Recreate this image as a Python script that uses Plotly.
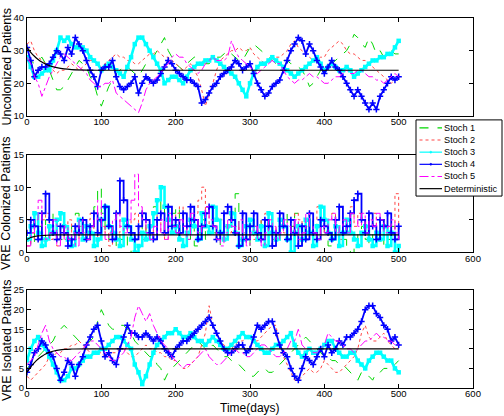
import plotly.graph_objects as go

# ---------------- data ----------------
DAYS = list(range(0, 501, 5))

UNCOL_S1 = [28,27,26,27,28,26,24,21,18,18,
            19,21,23,25,27,26,25,22,20,16,
            13,16,19,21,23,24,25,25,24,23,
            22,24,26,27,28,30,32,34,30,28,
            26,25,24,26,27,28,28,27,26,26,
            27,28,28,29,30,29,28,27,27,29,
            31,32,31,30,29,28,27,26,26,27,
            27,26,26,25,24,22,19,20,22,24,
            25,25,26,27,28,29,30,32,35,34,
            32,31,34,32,29,30,28,29,30,29,
            29]
UNCOL_S2 = [32,33,30,28,27,26,25,24,23,24,
            24,25,26,25,24,25,26,27,27,26,
            25,26,27,28,29,28,28,27,27,26,
            26,27,28,29,29,30,29,28,28,27,
            26,25,24,25,26,24,22,18,13,17,
            20,24,27,28,29,30,30,31,30,30,
            31,29,28,27,26,27,27,28,28,29,
            30,32,33,31,30,29,28,27,27,28,
            28,30,31,32,33,32,30,29,29,28,
            27,27,26,25,24,23,22,21,20,21,
            22]
UNCOL_S3 = [28,25,22,22,23,24,24,27,30,34,
            33,34,32,31,31,31,30,28,27,26,
            24,25,26,25,24,23,22,25,28,32,
            34,34,32,30,28,26,24,20,21,22,
            22,21,20,22,24,25,26,26,27,27,
            28,27,26,25,24,23,22,20,18,16,
            20,23,25,26,26,27,28,27,26,25,
            24,23,22,23,24,25,26,27,28,26,
            24,25,26,25,24,24,25,24,22,23,
            24,25,26,27,27,28,28,29,29,31,
            33]
UNCOL_S4 = [31,27,22,24,25,25,26,28,30,29,
            27,31,29,34,32,30,27,24,22,19,
            24,25,25,27,22,19,18,19,20,22,
            17,20,22,21,20,21,23,25,27,26,
            24,23,22,21,21,20,19,14,15,17,
            19,20,22,23,24,25,27,26,24,25,
            26,23,20,18,16,17,19,20,21,24,
            27,30,32,34,33,29,32,30,27,25,
            23,25,27,25,24,22,20,18,16,18,
            16,14,12,14,12,16,18,20,22,21,
            22]
UNCOL_S5 = [28,26,22,20,16,19,22,24,26,28,
            29,28,27,26,25,24,23,21,20,19,
            19,20,20,21,17,16,15,14,13,12,
            11,14,18,20,21,22,23,25,26,28,
            29,28,28,26,25,24,23,24,26,27,
            28,27,27,27,28,33,30,28,27,26,
            25,24,23,24,25,26,27,26,26,24,
            22,21,20,21,21,22,23,22,22,21,
            20,20,21,22,22,23,24,23,23,24,
            24,23,22,22,21,21,20,21,22,23,
            22]

COL_S1 = [2,1,3,4,2,5,3,6,4,2,
          3,1,4,6,5,3,2,4,7,10,
          6,3,2,1,3,2,4,1,0,2,
          3,5,2,4,7,6,8,5,3,6,
          7,5,3,2,4,1,3,5,2,4,
          3,5,1,2,4,6,9,3,2,1,
          3,4,2,5,3,1,2,4,3,6,
          2,4,6,3,1,2,3,5,2,4,
          3,1,2,4,3,2,1,0,2,3,
          4,2,1,3,2,1,3,2,4,1,
          2]
COL_S2 = [1,3,2,4,5,6,2,3,1,4,
          2,5,3,2,4,3,5,6,3,2,
          4,3,1,2,3,5,4,3,5,6,
          3,2,4,3,6,5,3,2,4,5,
          6,7,4,3,5,6,8,10,6,4,
          3,2,5,4,3,6,4,2,3,5,
          4,2,3,5,6,3,2,4,5,3,
          2,4,6,5,3,4,2,5,7,4,
          3,5,6,4,2,3,5,7,4,6,
          5,3,4,6,3,2,5,4,3,9,
          4]
COL_S3 = [2,4,6,3,1,2,4,3,5,6,
          4,2,1,3,5,2,4,3,1,2,
          5,7,4,3,2,1,5,4,2,0,
          1,3,2,4,6,8,10,7,5,3,
          4,2,1,3,5,4,2,6,4,3,
          7,5,3,2,4,6,3,1,2,4,
          5,3,2,4,1,6,3,2,5,4,
          2,0,3,4,2,5,3,1,4,7,
          5,3,2,4,1,3,5,3,2,1,
          3,4,2,1,3,2,4,1,3,0,
          1]
COL_S4 = [3,5,4,2,6,9,5,3,2,4,
          3,1,2,4,3,5,2,4,6,3,
          5,7,4,2,6,11,8,4,3,2,
          4,6,5,3,2,5,6,3,7,4,
          5,3,6,4,7,5,2,4,6,7,
          4,2,3,6,7,5,3,1,6,2,
          4,6,3,2,5,4,1,3,6,4,
          2,5,3,1,4,2,6,3,2,5,
          4,3,2,5,7,3,4,6,8,9,
          5,3,6,4,2,5,4,6,3,2,
          4]
COL_S5 = [1,3,5,8,4,2,3,5,1,2,
          4,2,3,1,5,3,2,4,5,8,
          4,2,3,5,6,4,3,5,8,12,
          7,5,3,2,4,3,5,2,6,4,
          3,5,4,2,6,5,3,4,7,5,
          4,2,1,3,5,4,3,5,2,1,
          3,4,2,1,3,5,4,2,3,5,
          4,3,5,2,3,6,4,3,2,4,
          3,5,6,3,4,5,3,6,5,4,
          6,3,5,4,6,5,3,4,5,3,
          2]

ISO_S1 = [5,6,8,8,9,10,11,12,14,15,
          16,15,14,13,12,11,11,12,13,17,
          20,18,16,15,15,16,16,15,14,12,
          11,10,9,8,8,6,5,2,4,5,
          6,7,8,9,10,11,12,11,10,10,
          11,10,9,8,8,7,7,6,5,4,
          3,3,4,5,5,4,4,5,6,7,
          8,9,10,11,12,13,12,11,10,9,
          8,8,7,7,6,6,5,4,3,2,
          4,3,3,2,4,4,5,5,6,6,
          7]
ISO_S2 = [3,2,3,4,5,6,8,8,9,9,
          10,10,11,11,12,11,10,9,9,9,
          9,8,8,9,9,10,10,9,8,8,
          9,10,11,10,10,9,9,8,8,7,
          7,6,5,5,6,7,8,11,14,21,
          16,14,12,11,10,10,11,12,12,13,
          13,12,12,13,14,15,16,16,10,8,
          6,4,2,2,3,4,5,4,4,5,
          7,6,5,4,4,5,6,7,8,10,
          14,16,13,12,12,13,14,12,11,10,
          10]
ISO_S3 = [7,10,12,13,11,10,8,6,4,2,
          2,3,5,5,6,7,8,8,9,9,
          10,10,11,12,13,13,12,11,10,6,
          4,1,3,6,9,11,12,13,14,14,
          15,14,13,13,14,13,12,12,11,12,
          13,12,11,10,10,11,12,13,14,13,
          13,12,11,10,9,9,10,11,11,12,
          13,14,11,9,8,9,10,9,9,10,
          11,12,12,10,9,8,8,9,9,7,
          6,5,7,8,9,9,8,7,7,5,
          4]
ISO_S4 = [4,6,9,10,12,11,9,8,5,2,
          4,7,6,3,6,8,11,13,15,16,
          12,8,9,7,6,10,13,16,14,14,
          13,13,14,13,12,13,12,10,9,8,
          10,11,12,12,13,14,15,16,17,18,
          16,14,12,10,9,9,10,11,11,9,
          10,13,16,15,16,17,17,14,11,9,
          8,5,3,2,5,8,7,6,8,10,
          8,11,9,10,12,11,13,13,14,15,
          17,20,21,21,19,18,16,15,12,13,
          11]
ISO_S5 = [6,7,8,11,14,16,12,10,9,8,
          8,7,7,8,9,10,11,12,12,11,
          10,9,8,7,7,8,9,11,13,18,
          21,19,17,19,16,14,12,11,10,8,
          7,6,5,6,6,7,8,9,10,8,
          7,6,6,7,8,9,10,9,9,8,
          8,9,10,11,11,10,9,8,8,9,
          10,12,12,15,11,10,10,9,9,10,
          11,14,13,12,12,11,10,10,9,10,
          11,12,12,13,14,13,13,12,12,11,
          11]

DET_DAYS = [0, 5, 10, 15, 20, 25, 30, 40, 50, 60, 80, 100, 200, 300, 400, 500]
DET_UNCOL = [31, 29.5, 28.3, 27.3, 26.5, 25.9, 25.4, 24.8, 24.4, 24.2, 24.05, 24, 24, 24, 24, 24]
DET_COL = [2.0, 2.3, 2.45, 2.55, 2.6, 2.63, 2.66, 2.69, 2.7, 2.7, 2.7, 2.7, 2.7, 2.7, 2.7, 2.7]
DET_ISO = [4, 5.4, 6.5, 7.4, 8.1, 8.7, 9.1, 9.6, 9.85, 9.95, 10, 10, 10, 10, 10, 10]

SERIES_NAMES = ["Stoch 1", "Stoch 2", "Stoch 3", "Stoch 4", "Stoch 5", "Deterministic"]
Y_TITLES = ["Uncolonized Patients", "VRE Colonized Patients", "VRE Isolated Patients"]
X_TITLE = "Time(days)"
X_TICKS = [0, 100, 200, 300, 400, 500, 600]

# ---------------- styles ----------------
FONT = "Liberation Sans, Arial, Helvetica, sans-serif"
STYLES = [
    dict(color="rgb(0,215,0)", dash="dash", width=1, marker=None),
    dict(color="rgb(255,70,70)", dash="dot", width=1, marker=None),
    dict(color="rgb(0,255,255)", dash="solid", width=2.6, marker=dict(size=4.5, symbol="square")),
    dict(color="rgb(0,0,255)", dash="solid", width=1.8, marker=dict(size=4.5, symbol="cross-thin", line=dict(width=1.5, color="rgb(0,0,255)"))),
    dict(color="rgb(255,0,255)", dash="dashdot", width=1, marker=None),
]
PANEL_SHAPES = ["linear", "hv", "linear"]

panels = [
    ([UNCOL_S1, UNCOL_S2, UNCOL_S3, UNCOL_S4, UNCOL_S5], DET_UNCOL),
    ([COL_S1, COL_S2, COL_S3, COL_S4, COL_S5], DET_COL),
    ([ISO_S1, ISO_S2, ISO_S3, ISO_S4, ISO_S5], DET_ISO),
]

fig = go.Figure()
for p, (stochs, det) in enumerate(panels):
    xa = "x" if p == 0 else f"x{p+1}"
    ya = "y" if p == 0 else f"y{p+1}"
    for s, vals in enumerate(stochs):
        assert len(vals) == len(DAYS)
        st = STYLES[s]
        mk = st["marker"]
        fig.add_trace(go.Scatter(
            x=DAYS, y=vals, name=SERIES_NAMES[s], xaxis=xa, yaxis=ya,
            mode="lines+markers" if mk else "lines",
            line=dict(color=st["color"], dash=st["dash"], width=st["width"], shape=PANEL_SHAPES[p]),
            marker=dict(mk, color=st["color"]) if mk else None,
            showlegend=False,
        ))
    fig.add_trace(go.Scatter(
        x=DET_DAYS, y=det, name=SERIES_NAMES[5], xaxis=xa, yaxis=ya, mode="lines",
        line=dict(color="black", width=1.2, shape="spline"), showlegend=False,
    ))

# ---------------- layout ----------------
L, R, T, B = 27, 473, 14, 388
W, H = 504, 416


def px(X):
    return (X - L) / (R - L)


def py(Y):
    return (B - Y) / (B - T)


domains = [(py(113), py(14)), (py(251), py(152)), (py(388), py(289))]
yranges = [[10, 40], [0, 15], [0, 25]]
ydticks = [10, 5, 5]

axis_common = dict(
    showline=True, linecolor="black", linewidth=1, mirror="ticks",
    ticks="inside", ticklen=4, tickcolor="black", showgrid=False, zeroline=False,
    tickfont=dict(family=FONT, size=9.5, color="black"),
)

layout = dict(
    width=W, height=H,
    margin=dict(l=L, r=W - R, t=T, b=H - B),
    paper_bgcolor="white", plot_bgcolor="white",
    showlegend=False,
    font=dict(family=FONT, color="black"),
)
for p in range(3):
    xk = "xaxis" if p == 0 else f"xaxis{p+1}"
    yk = "yaxis" if p == 0 else f"yaxis{p+1}"
    ticktext = [str(v) for v in X_TICKS]
    if p == 0:
        ticktext[-1] = ""
    layout[xk] = dict(axis_common, domain=[0, 1], range=[0, 600],
                      tickvals=X_TICKS, ticktext=ticktext, ticklabelstandoff=-3,
                      anchor="y" if p == 0 else f"y{p+1}")
    layout[yk] = dict(axis_common, domain=list(domains[p]), range=yranges[p],
                      dtick=ydticks[p], tick0=0,
                      anchor="x" if p == 0 else f"x{p+1}")
fig.update_layout(**layout)

annotations = []
centers = [63.5, 201.5, 340]
for p in range(3):
    annotations.append(dict(
        text=Y_TITLES[p], xref="paper", yref="paper", x=px(6.5), y=py(centers[p]),
        xanchor="center", yanchor="middle", textangle=-90, showarrow=False,
        font=dict(family=FONT, size=12.5, color="black"),
    ))
annotations.append(dict(
    text=X_TITLE, xref="paper", yref="paper", x=px(250), y=py(408),
    xanchor="center", yanchor="middle", showarrow=False,
    font=dict(family=FONT, size=12, color="black"),
))

# manual legend
shapes = [dict(type="rect", xref="paper", yref="paper",
               x0=px(416), x1=px(502), y0=py(194), y1=py(117),
               line=dict(color="black", width=1), fillcolor="white", layer="above")]
rows = [125, 137.3, 149.6, 161.9, 174.2, 186.5]
leg_styles = STYLES + [dict(color="black", dash="solid", width=1.2, marker=None)]
for i, name in enumerate(SERIES_NAMES):
    st = leg_styles[i]
    shapes.append(dict(type="line", xref="paper", yref="paper",
                       x0=px(419.5), x1=px(442), y0=py(rows[i]), y1=py(rows[i]),
                       line=dict(color=st["color"], dash=st["dash"], width=1.2), layer="above"))
    if st["marker"]:
        shapes.append(dict(type="circle", xref="paper", yref="paper",
                           x0=px(429.8), x1=px(431.8), y0=py(rows[i] + 1), y1=py(rows[i] - 1),
                           line=dict(color=st["color"], width=0.5), fillcolor=st["color"],
                           layer="above"))
    annotations.append(dict(
        text=name, xref="paper", yref="paper", x=px(443), y=py(rows[i]),
        xanchor="left", yanchor="middle", showarrow=False, borderpad=0,
        font=dict(family=FONT, size=9.2, color="black"),
    ))
fig.update_layout(annotations=annotations, shapes=shapes)

fig.write_html("out.html")
